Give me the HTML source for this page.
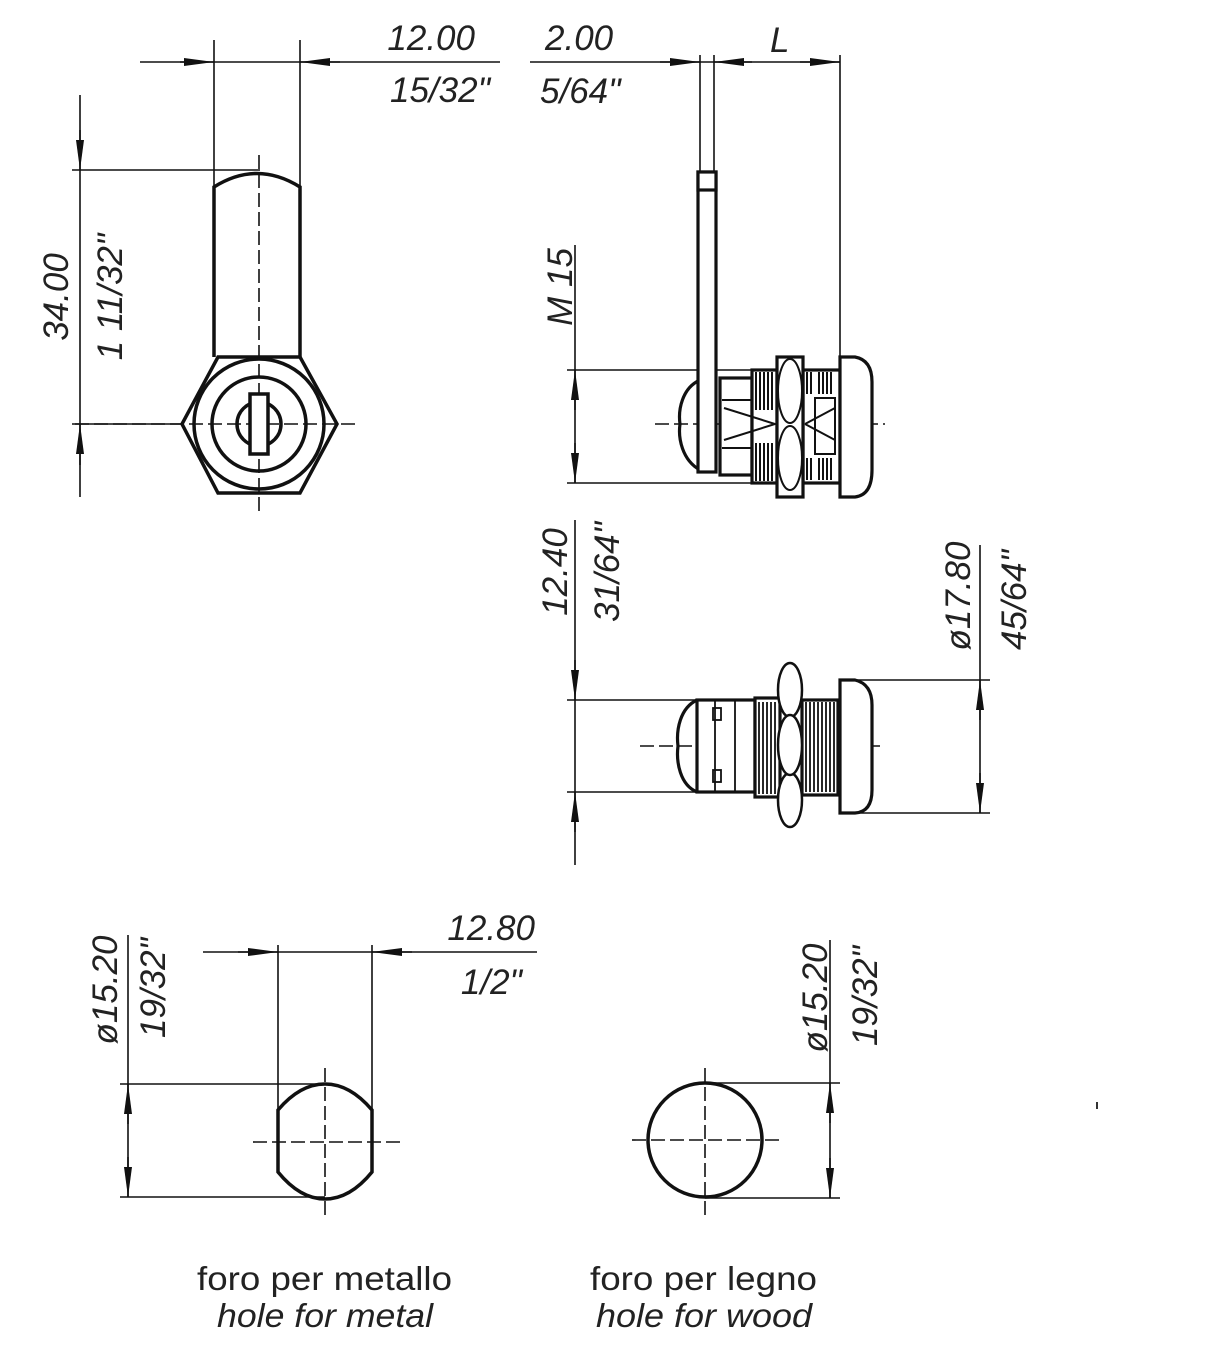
<!DOCTYPE html>
<html><head><meta charset="utf-8"><style>
html,body{margin:0;padding:0;background:#fff;}
svg{display:block;}
.d{font-family:"Liberation Sans",sans-serif;font-style:italic;font-size:35px;fill:#222;}
.c{font-family:"Liberation Sans",sans-serif;font-size:33px;fill:#222;}
</style></head><body>
<svg width="1216" height="1365" viewBox="0 0 1216 1365" xmlns="http://www.w3.org/2000/svg">
<defs>
<marker id="a" viewBox="0 0 30 8" refX="30" refY="4" markerWidth="30" markerHeight="8" orient="auto" markerUnits="userSpaceOnUse"><path d="M0,0 L30,4 L0,8z" fill="#111"/></marker>
</defs>
<rect width="1216" height="1365" fill="#fff"/>

<g stroke="#111" stroke-width="1.6" fill="none">
<!-- 12.00 -->
<line x1="140" y1="62" x2="500" y2="62"/>
<line x1="214" y1="40" x2="214" y2="190"/>
<line x1="300" y1="40" x2="300" y2="190"/>
<line x1="180" y1="62" x2="214" y2="62" marker-end="url(#a)"/>
<line x1="340" y1="62" x2="300" y2="62" marker-end="url(#a)"/>
<!-- 34.00 -->
<line x1="80" y1="95" x2="80" y2="497"/>
<line x1="72" y1="170" x2="260" y2="170"/>
<line x1="72" y1="424" x2="182" y2="424"/>
<line x1="80" y1="130" x2="80" y2="170" marker-end="url(#a)"/>
<line x1="80" y1="465" x2="80" y2="424" marker-end="url(#a)"/>
<!-- 2.00 / L -->
<line x1="530" y1="62" x2="840" y2="62"/>
<line x1="700" y1="55" x2="700" y2="172"/>
<line x1="714" y1="55" x2="714" y2="172"/>
<line x1="840" y1="55" x2="840" y2="360"/>
<line x1="660" y1="62" x2="700" y2="62" marker-end="url(#a)"/>
<line x1="752" y1="62" x2="714" y2="62" marker-end="url(#a)"/>
<line x1="800" y1="62" x2="840" y2="62" marker-end="url(#a)"/>
<!-- M15 -->
<line x1="575" y1="245" x2="575" y2="483"/>
<line x1="567" y1="370" x2="760" y2="370"/>
<line x1="567" y1="483" x2="760" y2="483"/>
<line x1="575" y1="410" x2="575" y2="370" marker-end="url(#a)"/>
<line x1="575" y1="443" x2="575" y2="483" marker-end="url(#a)"/>
<!-- 12.40 -->
<line x1="575" y1="520" x2="575" y2="865"/>
<line x1="567" y1="700" x2="700" y2="700"/>
<line x1="567" y1="792" x2="700" y2="792"/>
<line x1="575" y1="660" x2="575" y2="700" marker-end="url(#a)"/>
<line x1="575" y1="832" x2="575" y2="792" marker-end="url(#a)"/>
<!-- 17.80 -->
<line x1="980" y1="545" x2="980" y2="813"/>
<line x1="850" y1="680" x2="990" y2="680"/>
<line x1="850" y1="813" x2="990" y2="813"/>
<line x1="980" y1="720" x2="980" y2="680" marker-end="url(#a)"/>
<line x1="980" y1="773" x2="980" y2="813" marker-end="url(#a)"/>
<!-- 12.80 -->
<line x1="203" y1="952" x2="537" y2="952"/>
<line x1="278" y1="945" x2="278" y2="1110"/>
<line x1="372" y1="945" x2="372" y2="1110"/>
<line x1="238" y1="952" x2="278" y2="952" marker-end="url(#a)"/>
<line x1="412" y1="952" x2="372" y2="952" marker-end="url(#a)"/>
<!-- 15.20 left -->
<line x1="128" y1="935" x2="128" y2="1197"/>
<line x1="120" y1="1084" x2="325" y2="1084"/>
<line x1="120" y1="1197" x2="325" y2="1197"/>
<line x1="128" y1="1124" x2="128" y2="1084" marker-end="url(#a)"/>
<line x1="128" y1="1157" x2="128" y2="1197" marker-end="url(#a)"/>
<!-- 15.20 right -->
<line x1="830" y1="940" x2="830" y2="1198"/>
<line x1="705" y1="1083" x2="840" y2="1083"/>
<line x1="705" y1="1198" x2="840" y2="1198"/>
<line x1="830" y1="1123" x2="830" y2="1083" marker-end="url(#a)"/>
<line x1="830" y1="1158" x2="830" y2="1198" marker-end="url(#a)"/>
<!-- centerlines -->
<g stroke-dasharray="14,5">
<line x1="259" y1="155" x2="259" y2="512"/>
<line x1="75" y1="424" x2="355" y2="424"/>
<line x1="655" y1="424" x2="885" y2="424"/>
<line x1="640" y1="746" x2="880" y2="746"/>
<line x1="325" y1="1068" x2="325" y2="1216"/>
<line x1="253" y1="1142" x2="400" y2="1142"/>
<line x1="705" y1="1068" x2="705" y2="1216"/>
<line x1="632" y1="1140" x2="780" y2="1140"/>
</g>
</g>

<!-- front view lock -->
<g stroke="#111" stroke-width="3.5" fill="none">
<path d="M214,357 L214,187 Q257,160 300,187 L300,357"/>
<polygon points="218,357 300,357 337,424 300,493 218,493 182,424"/>
<circle cx="259" cy="424" r="65"/>
<circle cx="259" cy="424" r="47"/>
<circle cx="259" cy="424" r="22"/>
<rect x="250" y="394" width="18" height="60" fill="#fff"/>
</g>

<!-- side view top -->
<g stroke="#111" stroke-width="3.2" fill="#fff">
<path d="M700,380 C682,388 678,410 680,424 C678,438 682,460 700,470" fill="none"/>
<rect x="720" y="378" width="32" height="97"/>
<rect x="752" y="370" width="25" height="113"/>
<rect x="803" y="370" width="37" height="113"/>
<path d="M840,357 L855,357 Q872,360 872,382 L872,470 Q872,495 855,497 L840,497 Z"/>
<rect x="777" y="357" width="26" height="140"/>
<rect x="698" y="172" width="18" height="300"/>
<rect x="698" y="172" width="18" height="18"/>
</g>
<g stroke="#111" stroke-width="2" fill="none">
<ellipse cx="790" cy="391" rx="12" ry="32"/>
<ellipse cx="790" cy="458" rx="12" ry="32"/>
<line x1="722" y1="400" x2="752" y2="400"/>
<line x1="722" y1="448" x2="752" y2="448"/>
<path d="M724,408 L775,424 L724,440"/>
<path d="M805,424 L835,408 M805,424 L835,440"/>
<rect x="815" y="398" width="20" height="56"/>
<path d="M756,372v38M760,372v38M764,372v38M768,372v38M772,372v38M756,443v38M760,443v38M764,443v38M768,443v38M772,443v38"/>
<path d="M807,372v22M811,372v22M819,372v22M823,372v22M827,372v22M831,372v22M807,458v22M811,458v22M819,458v22M823,458v22M827,458v22M831,458v22"/>
</g>

<!-- side view bottom -->
<g stroke="#111" stroke-width="3.2" fill="#fff">
<path d="M697,700 C680,708 676,730 678,746 C676,762 680,785 697,792" fill="none"/>
<rect x="697" y="700" width="58" height="92"/>
<rect x="755" y="698" width="25" height="99"/>
<rect x="802" y="700" width="36" height="95"/>
<path d="M840,680 L855,680 Q872,684 872,705 L872,790 Q872,812 855,813 L840,813 Z"/>
</g>
<g stroke="#111" stroke-width="2.5" fill="#fff">
<ellipse cx="790" cy="690" rx="12" ry="27"/>
<ellipse cx="790" cy="800" rx="12" ry="27"/>
<ellipse cx="790" cy="745" rx="12" ry="30"/>
</g>
<g stroke="#111" stroke-width="1.8" fill="none">
<line x1="715" y1="700" x2="715" y2="792"/>
<rect x="713" y="708" width="8" height="12"/>
<rect x="713" y="770" width="8" height="12"/>
<line x1="735" y1="700" x2="735" y2="792"/>
<path d="M759,702v92M763,702v92M767,702v92M771,702v92M775,702v92"/>
<path d="M806,702v90M810,702v90M814,702v90M818,702v90M822,702v90M826,702v90M830,702v90M834,702v90"/>
</g>

<!-- holes -->
<path d="M278,1110 Q300,1084 325,1084 Q350,1084 372,1110 L372,1172 Q350,1199 325,1199 Q300,1199 278,1172 Z" stroke="#111" stroke-width="3.5" fill="none"/>
<circle cx="705" cy="1140" r="57" stroke="#111" stroke-width="3.5" fill="none"/>
<rect x="1096" y="1102" width="2" height="7" fill="#333"/>

<!-- dimension texts -->
<text class="d" x="475" y="50" text-anchor="end">12.00</text>
<text class="d" x="490" y="102" text-anchor="end">15/32"</text>
<text class="d" x="545" y="50">2.00</text>
<text class="d" x="540" y="103">5/64"</text>
<text class="d" x="770" y="52">L</text>
<text class="d" x="535" y="940" text-anchor="end">12.80</text>
<text class="d" x="522" y="994" text-anchor="end">1/2"</text>

<text class="d" transform="translate(68,297) rotate(-90)" text-anchor="middle">34.00</text>
<text class="d" transform="translate(122,297) rotate(-90)" text-anchor="middle">1 11/32"</text>
<text class="d" transform="translate(572,287) rotate(-90)" text-anchor="middle">M 15</text>
<text class="d" transform="translate(567,572) rotate(-90)" text-anchor="middle">12.40</text>
<text class="d" transform="translate(619,572) rotate(-90)" text-anchor="middle">31/64"</text>
<text class="d" transform="translate(970,596) rotate(-90)" text-anchor="middle">ø17.80</text>
<text class="d" transform="translate(1026,600) rotate(-90)" text-anchor="middle">45/64"</text>
<text class="d" transform="translate(117,990) rotate(-90)" text-anchor="middle">ø15.20</text>
<text class="d" transform="translate(165,988) rotate(-90)" text-anchor="middle">19/32"</text>
<text class="d" transform="translate(827,998) rotate(-90)" text-anchor="middle">ø15.20</text>
<text class="d" transform="translate(877,996) rotate(-90)" text-anchor="middle">19/32"</text>

<!-- captions -->
<text class="c" x="197" y="1290" textLength="255" lengthAdjust="spacingAndGlyphs">foro per metallo</text>
<text class="c" x="217" y="1327" font-style="italic" textLength="216" lengthAdjust="spacingAndGlyphs">hole for metal</text>
<text class="c" x="590" y="1290" textLength="227" lengthAdjust="spacingAndGlyphs">foro per legno</text>
<text class="c" x="596" y="1327" font-style="italic" textLength="216" lengthAdjust="spacingAndGlyphs">hole for wood</text>
</svg>
</body></html>
